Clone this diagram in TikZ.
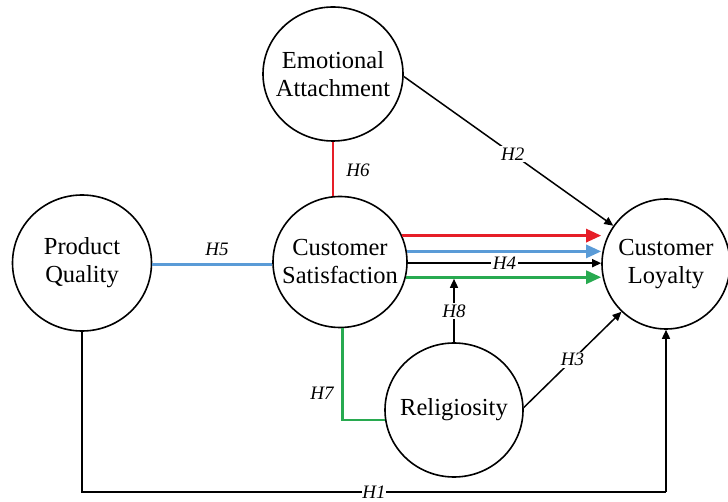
\documentclass[tikz,border=0pt]{standalone}
\usepackage{fontspec}
\setmainfont{Liberation Serif}
\usetikzlibrary{shapes.geometric,arrows.meta}
\definecolor{hred}{RGB}{230,30,40}
\definecolor{hblue}{RGB}{90,155,215}
\definecolor{hgreen}{RGB}{40,170,80}
\begin{document}
\begin{tikzpicture}[x=1pt,y=-1pt,
  construct/.style={ellipse,draw,line width=1.6pt,inner sep=0pt},
  ctext/.style={align=center,inner sep=0pt,font=\fontsize{24.5}{28}\selectfont},
  hlabel/.style={font=\fontsize{19}{22}\itshape\selectfont,inner sep=1.5pt},
  gap/.style={hlabel,fill=white},
  blk/.style={line width=1.5pt,-{Triangle[length=9pt,width=8pt]}},
  col/.style={line width=2.8pt,-{Triangle[length=15pt,width=13pt]}}]
\useasboundingbox (0,0) rectangle (728,502);

% constructs (outline sizes fixed, names set on top)
\node[construct,minimum width=140pt,minimum height=134pt] (ea) at (333,74) {};
\node[construct,minimum width=139pt,minimum height=136pt] (pq) at (82,263) {};
\node[construct,minimum width=134pt,minimum height=131pt] (cs) at (340,262) {};
\node[construct,minimum width=128pt,minimum height=130pt] (cl) at (666,264) {};
\node[construct,minimum width=138pt,minimum height=134pt] (rel) at (454,410) {};
\node[ctext] (eat) at (ea) {Emotional\\Attachment};
\node[ctext] (pqt) at (pq) {Product\\Quality};
\node[ctext] (cst) at (cs) {Customer\\Satisfaction};
\node[ctext] (clt) at (cl) {Customer\\Loyalty};
\node[ctext] (relt) at (rel) {Religiosity};

% H6 and H5 links into satisfaction
\draw[hred,line width=2.6pt] (ea.south) -- (ea.south |- cs.north);
\node[hlabel] (h6) at (358,170) {H6};
\draw[hblue,line width=2.4pt] (pq.east |- cs.182) -- (cs.182);
\node[hlabel] (h5) at (217,249) {H5};

% parallel paths satisfaction -> loyalty
\draw[col,hred]  (cs.23.9) -- (cs.23.9 -| cl.west);
\draw[col,hblue] (cs.9.5)  -- (cs.9.5 -| cl.west);
\draw[blk] (cs.-1.7) -- node[gap] (h4) {H4} (cs.-1.7 -| cl.west);
\draw[col,hgreen] (cs.-13.8) -- (cs.-13.8 -| cl.west);

% H2
\draw[blk] (ea.-2) -- node[gap,pos=0.52] (h2) {H2} (cl.144);

% H8 moderating arrow
\coordinate (g) at (rel.north |- cs.-13.8);
\draw[blk,shorten >=1.6pt] (rel.north) -- node[gap,pos=0.48] (h8) {H8} (g);

% H7
\draw[hgreen,line width=2.4pt] (cs.-88) |- (rel.188);
\node[hlabel] (h7) at (322,393) {H7};

% H3
\draw[blk] (rel.2) -- node[gap] (h3) {H3} (cl.227);

% H1
\coordinate (b1) at (pq.south |- 0,492);
\coordinate (b2) at (cl.south |- 0,492);
\draw[line width=1.5pt] (pq.south) -- (b1) -- node[gap,inner sep=0.5pt,pos=0.5] (h1) {H1} (b2);
\draw[blk] (b2) -- (cl.south);
\end{tikzpicture}
\end{document}
